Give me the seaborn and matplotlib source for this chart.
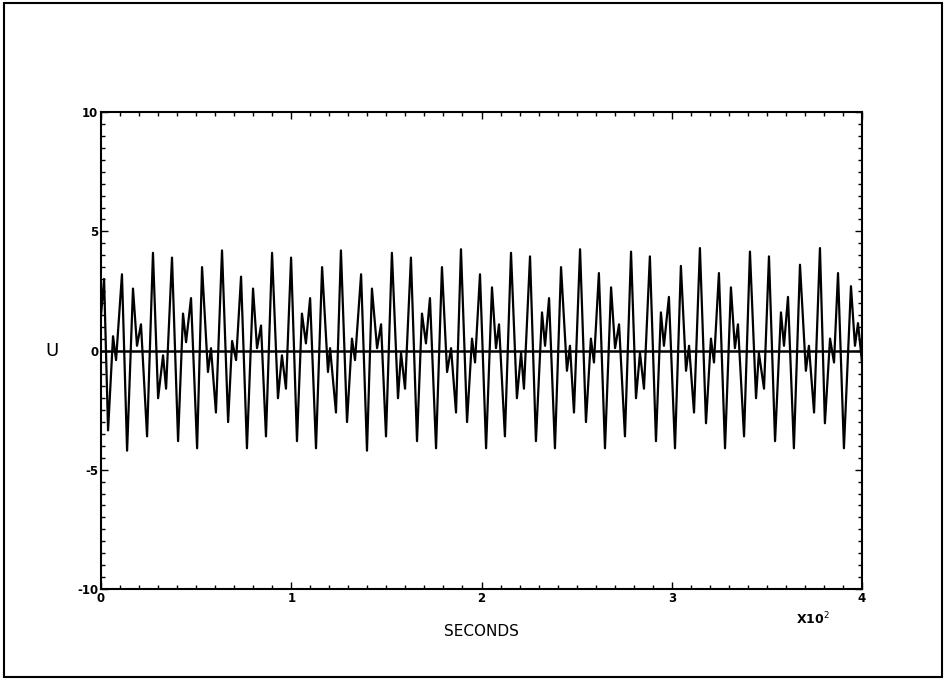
import matplotlib
matplotlib.use("Agg")
import matplotlib.pyplot as plt
from matplotlib.patches import Rectangle
from matplotlib.ticker import MultipleLocator, FixedLocator
import seaborn as sns
import pandas as pd

# turning points of the trace (seconds, U)
seconds = [0.0, 1.6, 3.7, 6.3, 7.9, 11.0, 13.7, 16.8, 18.9, 21.0,
           24.2, 27.3, 30.0, 32.6, 34.2, 37.3, 40.5, 43.1, 44.7, 47.3,
           50.5, 53.1, 56.2, 57.8, 60.4, 63.6, 66.8, 68.9, 71.0, 73.6,
           76.7, 79.9, 82.0, 84.1, 86.7, 89.9, 93.0, 95.1, 97.2, 99.9,
           103.0, 105.6, 107.7, 109.9, 113.0, 116.2, 119.3, 120.4, 123.5, 126.1,
           129.3, 131.9, 133.5, 136.7, 139.8, 142.4, 145.1, 147.2, 149.8, 152.9,
           156.1, 157.7, 159.8, 162.9, 166.1, 168.7, 170.8, 172.9, 176.1, 179.2,
           181.9, 184.0, 186.6, 189.2, 192.4, 195.0, 196.6, 199.2, 202.4, 205.5,
           207.6, 209.2, 212.3, 215.5, 218.6, 220.8, 222.3, 225.5, 228.6, 231.8,
           233.4, 235.5, 238.6, 241.8, 244.9, 246.5, 248.6, 251.8, 254.9, 257.5,
           259.1, 261.7, 264.9, 268.1, 270.2, 272.3, 275.4, 278.6, 281.2, 283.3,
           285.4, 288.5, 291.7, 294.3, 295.9, 298.5, 301.7, 304.8, 307.5, 309.1,
           311.7, 314.8, 318.0, 320.6, 322.2, 324.8, 328.0, 331.1, 333.2, 334.8,
           338.0, 341.1, 344.3, 345.8, 348.5, 351.1, 354.3, 357.4, 359.0, 361.1,
           364.2, 367.4, 370.5, 372.1, 374.8, 377.9, 380.5, 383.2, 385.3, 387.4,
           390.5, 394.2, 396.3, 397.9, 400.0]
u = [1.5, 3.0, -3.35, 0.6, -0.4, 3.2, -4.2, 2.6, 0.2, 1.1,
     -3.6, 4.1, -2.0, -0.2, -1.6, 3.9, -3.8, 1.55, 0.35, 2.2,
     -4.1, 3.5, -0.9, 0.1, -2.6, 4.2, -3.0, 0.4, -0.4, 3.1,
     -4.1, 2.6, 0.1, 1.05, -3.6, 4.1, -2.0, -0.2, -1.6, 3.9,
     -3.8, 1.55, 0.3, 2.2, -4.1, 3.5, -0.9, 0.1, -2.6, 4.2,
     -3.0, 0.5, -0.4, 3.2, -4.2, 2.6, 0.1, 1.1, -3.6, 4.1,
     -2.0, -0.1, -1.6, 3.9, -3.8, 1.55, 0.3, 2.2, -4.1, 3.5,
     -0.9, 0.1, -2.6, 4.25, -3.0, 0.5, -0.5, 3.2, -4.1, 2.65,
     0.1, 1.1, -3.6, 4.1, -2.0, -0.1, -1.6, 3.95, -3.8, 1.6,
     0.2, 2.2, -4.1, 3.5, -0.85, 0.2, -2.6, 4.25, -3.0, 0.5,
     -0.5, 3.25, -4.1, 2.65, 0.1, 1.1, -3.6, 4.15, -2.0, -0.1,
     -1.6, 3.95, -3.8, 1.6, 0.2, 2.25, -4.1, 3.55, -0.85, 0.2,
     -2.6, 4.3, -3.05, 0.5, -0.5, 3.25, -4.1, 2.65, 0.1, 1.1,
     -3.6, 4.15, -2.0, -0.1, -1.6, 3.95, -3.8, 1.6, 0.2, 2.25,
     -4.1, 3.6, -0.85, 0.2, -2.6, 4.3, -3.05, 0.5, -0.5, 3.25,
     -4.1, 2.7, 0.2, 1.15, -0.5]

x_ticks = [0, 100, 200, 300, 400]
x_labels = ["0", "1", "2", "3", "4"]
y_ticks = [-10, -5, 0, 5, 10]
y_labels = ["-10", "-5", "0", "5", "10"]

df = pd.DataFrame({"SECONDS": seconds, "U": u})

sns.set_style("ticks")
plt.rcParams['font.family'] = ['DejaVu Sans']
plt.rcParams['text.color'] = 'black'
plt.rcParams['axes.labelcolor'] = 'black'
plt.rcParams['xtick.color'] = 'black'
plt.rcParams['ytick.color'] = 'black'

fig = plt.figure(figsize=(9.46, 6.8), dpi=100)
ax = fig.add_axes([0.1068, 0.134, 0.8044, 0.701])

sns.lineplot(data=df, x="SECONDS", y="U", ax=ax, color="black", lw=1.6,
             estimator=None, sort=False)
ax.axhline(0, color="black", lw=1.8)

ax.set_xlim(0, 400)
ax.set_ylim(-10, 10)
ax.xaxis.set_major_locator(FixedLocator(x_ticks))
ax.set_xticklabels(x_labels, fontsize=8.5, fontweight="bold")
ax.yaxis.set_major_locator(FixedLocator(y_ticks))
ax.set_yticklabels(y_labels, fontsize=8.5, fontweight="bold")
ax.xaxis.set_minor_locator(MultipleLocator(10))
ax.yaxis.set_minor_locator(MultipleLocator(0.5))
ax.tick_params(which="both", direction="in", top=True, right=True,
               color="black", width=1.0)
ax.tick_params(which="major", length=5, pad=2)
ax.tick_params(which="minor", length=3)
for s in ax.spines.values():
    s.set_color("black")
    s.set_linewidth(1.5)

ax.set_xlabel("SECONDS", fontsize=11, labelpad=14)
ax.set_ylabel("U", fontsize=13, rotation=0, labelpad=18, va="center")
ax.text(0.935, -0.045, "X10$^2$", transform=ax.transAxes, fontsize=9,
        fontweight="bold", ha="center", va="top")

# page frame of the scan
fig.patches.append(Rectangle((0.004, 0.004), 0.992, 0.991, transform=fig.transFigure,
                             fill=False, edgecolor="black", lw=1.5))

fig.savefig("out.png", dpi=100, facecolor="white")
